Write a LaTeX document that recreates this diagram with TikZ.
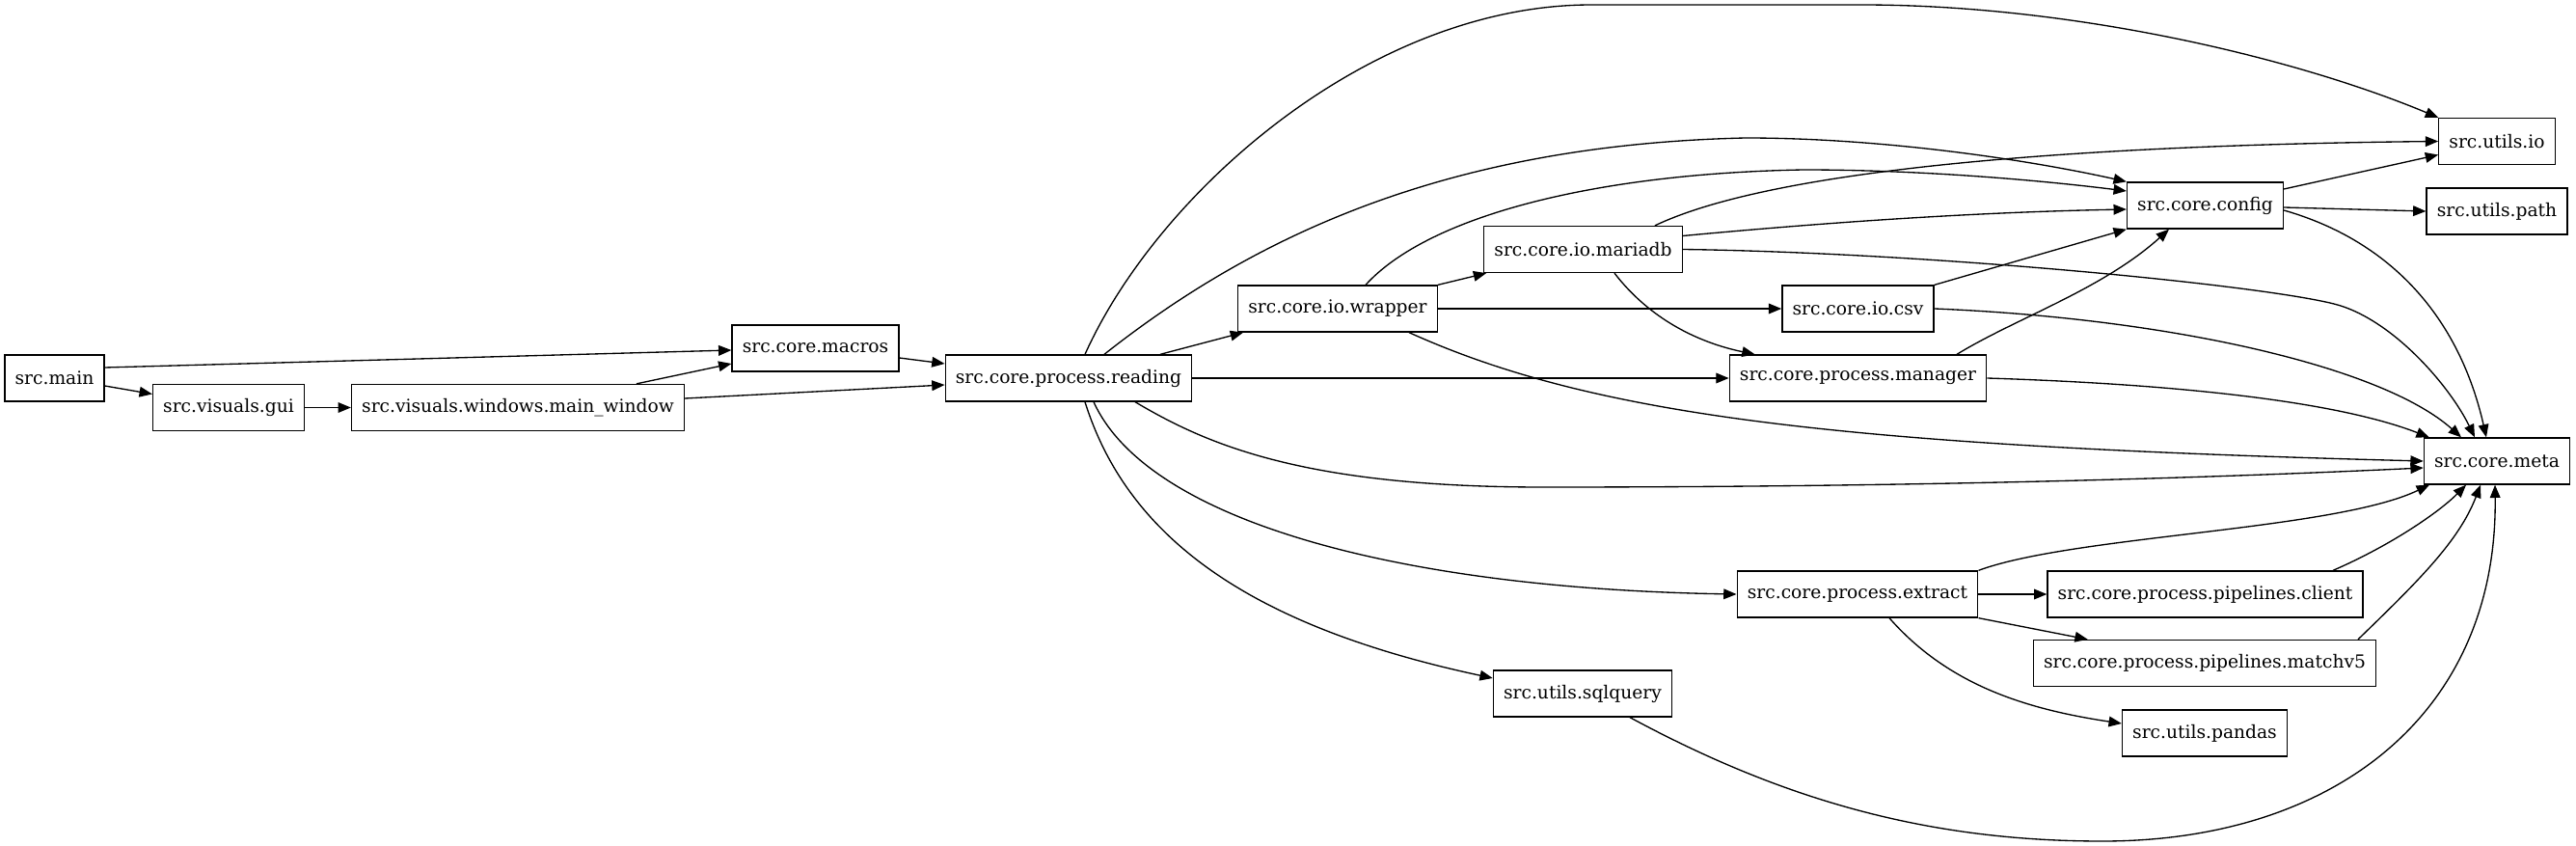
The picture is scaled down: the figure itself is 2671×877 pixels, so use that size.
\documentclass[tikz,border=0pt]{standalone}
\usepackage{fontspec}
\setmainfont{DejaVu Serif}
\usetikzlibrary{arrows.meta,calc}
\begin{document}
\begin{tikzpicture}[x=0.75pt,y=-0.75pt,
  box/.style={draw, line width=1pt, rectangle, minimum height=36pt, inner xsep=8pt, inner ysep=0pt, font=\fontsize{14}{16}\selectfont},
  dep/.style={draw, line width=1pt, -{Triangle[length=10pt,width=8pt]}}]
\fill[white] (0,0) rectangle (2671,877);
\useasboundingbox (0,0) rectangle (2671,877);
\node[box] (main) at (56.5,392) {src.main};
\node[box] (gui) at (237,422.5) {src.visuals.gui};
\node[box] (mainwin) at (537,422.5) {src.visuals.windows.main\_window};
\node[box] (macros) at (845.5,361) {src.core.macros};
\node[box] (reading) at (1108,392) {src.core.process.reading};
\node[box] (wrapper) at (1387,320) {src.core.io.wrapper};
\node[box] (mariadb) at (1641.5,258.5) {src.core.io.mariadb};
\node[box] (csv) at (1926.5,320) {src.core.io.csv};
\node[box] (manager) at (1926.5,392) {src.core.process.manager};
\node[box] (config) at (2286.5,213) {src.core.config};
\node[box] (utilsio) at (2589,146.5) {src.utils.io};
\node[box] (path) at (2589,219) {src.utils.path};
\node[box] (meta) at (2589,478) {src.core.meta};
\node[box] (extract) at (1926,616) {src.core.process.extract};
\node[box] (client) at (2286.5,616) {src.core.process.pipelines.client};
\node[box] (matchv5) at (2286,687.5) {src.core.process.pipelines.matchv5};
\node[box] (pandas) at (2286,760) {src.utils.pandas};
\node[box] (sqlquery) at (1641,719) {src.utils.sqlquery};

\draw[dep] ($(main.east)+(0,-11)$) -- ($(macros.west)+(0,2)$);
\draw[dep] ($(main.east)+(0,8)$) -- ($(gui.west)+(0,-14)$);
\draw[dep] (gui) -- (mainwin);
\draw[dep] ($(mainwin.north)+(123,0)$) -- ($(macros.west)+(0,16)$);
\draw[dep] ($(mainwin.east)+(0,-9.5)$) -- ($(reading.west)+(0,7)$);
\draw[dep] ($(macros.east)+(0,10)$) -- ($(reading.west)+(0,-15)$);
\draw[dep] ($(reading.north)+(95,0)$) -- ($(wrapper.south west)+(6,0)$);
\draw[dep] (reading) -- (manager);
\draw[dep] ($(reading.north)+(17,0)$) .. controls (1200,200) and (1420,5) .. (1650,5) -- (1930,5) .. controls (2150,5) and (2380,60) .. (utilsio.north west);
\draw[dep] ($(reading.north)+(37,0)$) .. controls (1300,245) and (1500,150) .. (1810,143) .. controls (1950,143) and (2100,165) .. (config.north west);
\draw[dep] ($(wrapper.north)+(29,0)$) .. controls (1480,225) and (1650,180) .. (1870,176) .. controls (1980,176) and (2100,185) .. ($(config.west)+(0,-15)$);
\draw[dep] ($(mariadb.north)+(74.5,0)$) .. controls (1850,170) and (2200,150) .. (utilsio.west);
\draw[dep] ($(mariadb.east)+(0,-14)$) .. controls (1900,230) and (2050,220) .. ($(config.west)+(0,4)$);
\draw[dep] (mariadb.east) .. controls (2000,262) and (2340,295) .. (2420,315) .. controls (2480,330) and (2540,400) .. ($(meta.north)+(-23,0)$);
\draw[dep] ($(mariadb.south)+(32.5,0)$) .. controls (1710,330) and (1760,355) .. ($(manager.north west)+(27,0)$);
\draw[dep] (wrapper.north east) -- ($(mariadb.south west)+(3,0)$);
\draw[dep] (wrapper) -- (csv);
\draw[dep] ($(wrapper.south)+(74,0)$) .. controls (1650,430) and (1900,462) .. (meta.west);
\draw[dep] ($(reading.south)+(69,0)$) .. controls (1250,460) and (1350,505) .. (1600,505) .. controls (2000,505) and (2300,495) .. ($(meta.west)+(0,7)$);
\draw[dep] (csv.north east) -- (config.south west);
\draw[dep] (csv.east) .. controls (2250,330) and (2470,380) .. ($(meta.north)+(-37,0)$);
\draw[dep] ($(manager.north)+(102.5,0)$) .. controls (2090,330) and (2180,300) .. ($(config.south)+(-37.5,0)$);
\draw[dep] (manager.east) .. controls (2250,398) and (2420,415) .. ($(meta.north west)+(6,0)$);
\draw[dep] ($(config.east)+(0,-17)$) -- ($(utilsio.west)+(0,14)$);
\draw[dep] ($(config.east)+(0,2)$) -- (path.west);
\draw[dep] ($(config.east)+(0,5)$) .. controls (2480,250) and (2550,330) .. ($(meta.north)+(-11,0)$);
\draw[dep] (extract.north east) .. controls (2150,555) and (2420,550) .. ($(meta.south)+(-70,0)$);
\draw[dep] ($(client.north)+(132.5,0)$) .. controls (2480,565) and (2530,530) .. ($(meta.south)+(-32,0)$);
\draw[dep] ($(matchv5.north)+(159,0)$) .. controls (2510,600) and (2550,560) .. ($(meta.south)+(-17,0)$);
\draw[dep] ($(sqlquery.south)+(49,0)$) .. controls (1850,830) and (2000,872) .. (2180,872) .. controls (2420,872) and (2590,740) .. ($(meta.south)+(-2,0)$);
\draw[dep] (extract) -- (client);
\draw[dep] (extract.south east) -- ($(matchv5.north west)+(57,0)$);
\draw[dep] ($(extract.south)+(33,0)$) .. controls (2020,710) and (2100,735) .. ($(pandas.west)+(0,-10)$);
\draw[dep] ($(reading.south)+(26,0)$) .. controls (1190,540) and (1450,610) .. (extract.west);
\draw[dep] ($(reading.south)+(17,0)$) .. controls (1170,560) and (1300,650) .. ($(sqlquery.west)+(0,-16)$);
\end{tikzpicture}
\end{document}
